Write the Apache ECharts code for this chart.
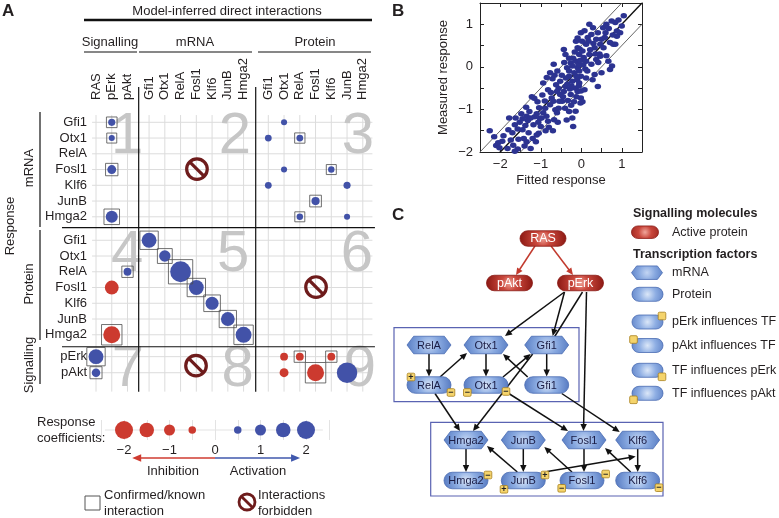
<!DOCTYPE html>
<html><head><meta charset="utf-8">
<script src="https://cdn.jsdelivr.net/npm/echarts@6/dist/echarts.min.js"></script>
<style>html,body{margin:0;padding:0;background:#fff}#c{width:779px;height:518px}</style>
</head><body><div id="c"></div>
<script>
const FONT = '"Liberation Sans", Arial, Helvetica, sans-serif';
const TXT = '#231f20';
const BLUE = '#4252a8';
const RED = '#cc3a2f';
const MAROON = '#6e1c1c';

// ---------- Panel A data ----------
const colNames = ['RAS','pErk','pAkt','Gfi1','Otx1','RelA','Fosl1','Klf6','JunB','Hmga2','Gfi1','Otx1','RelA','Fosl1','Klf6','JunB','Hmga2'];
const rowNames = ['Gfi1','Otx1','RelA','Fosl1','Klf6','JunB','Hmga2','Gfi1','Otx1','RelA','Fosl1','Klf6','JunB','Hmga2','pErk','pAkt'];
// response (row) / perturbation (column) / coefficient / confirmed-known
const cellRow   = [0,1,3,6, 0,1,1,3,3,4,4,5,6,6, 9,10,13, 7,8,9,10,11,12,13, 14,15,14,14,14,15,15,15];
const cellCol   = [1,1,1,1, 11,10,12,11,14,10,15,13,12,15, 2,1,1, 3,4,5,6,7,8,9, 0,0,11,12,14,11,13,15];
const cellCoef  = [0.45,0.3,0.7,1.15, 0.3,0.4,0.4,0.3,0.35,0.4,0.45,0.6,0.35,0.3, 0.55,-1.4,-1.85, 1.55,1.05,2.4,1.55,1.3,1.4,1.7, 1.55,0.65,-0.55,-0.55,-0.55,-0.7,-1.85,2.35];
const cellKnown = [1,1,1,1, 0,0,1,0,1,0,0,1,1,0, 1,0,1, 1,1,1,1,1,1,1, 1,1,0,1,1,0,1,0];
const legendCoefs = [-2,-1.5,-1,-0.5,0.5,1,1.5,2];
const blockNumbers = ['1','2','3','4','5','6','7','8','9'];

// layout of the matrix (axis units)
const colPos = [0,1,2, 3.37,4.37,5.37,6.37,7.37,8.37,9.37, 10.94,11.94,12.94,13.94,14.94,15.94,16.94];
const rowPos = [0,1,2,3,4,5,6, 7.49,8.49,9.49,10.49,11.49,12.49,13.49, 14.88,15.9];
const numberPos = [[1.97,0.95],[8.82,0.95],[16.63,0.95],[1.97,8.4],[8.7,8.4],[16.57,8.4],[2.03,15.75],[9.0,15.75],[16.76,15.75]];
const forbiddenPos = [[6.41,2.97],[13.97,10.46],[6.35,15.45]];
const dividerSegs = [[2.71,-2.24,2.71,17.1],[10.14,-2.24,10.14,17.1],[-2.16,6.69,17.71,6.69],[-2.16,14.25,17.71,14.25]];

// ---------- Panel B data (fitted, measured) ----------
const scatterPoints = [
[-2.26,-1.5],[-2.15,-1.64],[-2.1,-1.85],[-2.02,-1.9],[-1.95,-1.75],[-1.82,-1.92],[-1.8,-1.48],[-1.78,-1.2],[-1.74,-1.72],[-1.68,-1.84],[-1.62,-1.2],[-1.64,-1.36],[-1.57,-1.46],[-1.57,-1.93],[-1.64,-1.98],[-1.55,-1.7],[-1.92,-1.62],[-2.05,-1.78],[-1.7,-1.55],[-1.52,-1.3],
[-1.45,-1.48],[-1.38,-1.38],[-1.32,-1.26],[-1.35,-1.16],[-1.28,-1.05],[-1.42,-1.68],[-1.35,-1.76],[-1.2,-1.68],[-1.12,-1.76],[-1.25,-1.92],[-1.4,-1.86],[-1.3,-1.55],[-1.22,-0.7],[-1.16,-0.74],[-1.08,-0.82],[-1.04,-0.96],[-1.15,-1.17],[-1.02,-1.21],[-1.0,-1.4],[-1.05,-1.56],[-1.1,-1.6],[-1.18,-1.36],[-1.1,-1.1],[-1.25,-1.2],[-1.48,-1.1],[-1.45,-1.22],[-1.06,-1.3],[-1.36,-0.95],
[-0.94,-0.38],[-0.82,-0.54],[-0.73,-0.73],[-0.69,-0.81],[-0.77,-0.89],[-0.64,-1.01],[-0.89,-0.97],[-0.94,-1.08],[-0.86,-1.16],[-0.82,-1.28],[-0.67,-1.24],[-0.6,-1.08],[-0.56,-0.97],[-0.54,-0.81],[-0.52,-0.65],[-0.56,-0.51],[-0.6,-0.58],[-0.71,-0.28],[-0.77,-0.14],[-0.68,0.06],[-0.59,-0.1],[-0.52,-0.34],[-0.96,-0.66],[-0.9,-0.8],[-0.8,-1.42],[-0.7,-1.5],[-0.88,-1.5],[-0.98,-1.2],[-0.75,-0.6],[-0.62,-0.42],[-0.85,-0.25],[-0.66,-0.2],[-0.58,-1.3],
[-0.43,0.41],[-0.39,0.29],[-0.35,-0.02],[-0.3,-0.1],[-0.26,0.09],[-0.22,0.02],[-0.3,-0.22],[-0.22,-0.34],[-0.14,-0.5],[-0.09,-0.58],[-0.39,-0.46],[-0.43,-0.58],[-0.47,-0.81],[-0.4,-0.97],[-0.3,-1.05],[-0.22,-1.2],[-0.14,-1.04],[-0.18,-0.82],[-0.26,-0.65],[-0.38,-0.26],[-0.13,0.13],[-0.09,-0.02],[-0.05,-0.1],[-0.01,-0.22],[-0.05,-0.38],[-0.01,-0.57],[-0.01,-0.73],[-0.13,0.6],[-0.09,0.45],[-0.05,0.29],[-0.01,0.8],[-0.09,0.68],[-0.2,0.2],[-0.17,-0.14],[-0.45,-0.7],[-0.33,-0.79],[-0.28,-0.52],[-0.48,-0.2],[-0.42,0.1],[-0.25,-0.9],[-0.1,-0.3],[-0.07,0.05],[-0.03,0.15],[-0.36,-1.25],[-0.2,-1.4],[-0.12,-0.7],[-0.02,-0.85],[-0.3,0.2],[-0.16,0.35],[-0.06,-0.45],[-0.24,-0.45],[-0.34,-0.4],[-0.12,-0.22],[-0.04,0.42],
[0.03,0.37],[0.12,0.53],[0.16,0.69],[0.2,1.0],[0.29,0.92],[0.25,0.76],[0.37,0.65],[0.41,0.8],[0.47,0.53],[0.33,0.45],[0.2,0.29],[0.12,0.13],[0.25,0.06],[0.37,0.17],[0.33,-0.18],[0.41,-0.46],[0.5,-0.14],[0.12,-0.26],[0.08,-0.54],[0.03,-0.82],[0.18,0.6],[0.05,0.05],[0.1,-0.05],[0.22,0.4],[0.3,0.55],[0.06,0.22],[0.15,-0.1],[0.45,0.3],[0.28,-0.3],[0.02,0.6],[0.08,0.85],[0.35,0.3],[0.42,0.1],
[0.54,0.92],[0.62,1.0],[0.75,1.08],[0.84,1.04],[0.88,0.84],[0.58,0.69],[0.71,0.57],[0.79,0.53],[0.67,0.13],[0.71,-0.06],[0.76,0.02],[1.0,0.96],[1.05,1.2],[0.96,0.8],[0.88,0.72],[0.84,0.53],[0.55,0.45],[0.47,0.25],[0.62,0.26],[0.6,0.8],[0.68,0.9],[0.92,1.1],[0.5,0.65],[0.78,0.75]
];
const lineMid = [[-2.5,-2.5],[1.5,1.5]];
const lineUpper = [[-2.5,-2],[1.0,1.5]];
const lineLower = [[-1.5,-2],[1.5,1.0]];

// ---------- Panel C (diagram) ----------
const cNodes = [
 {id:'RAS', label:'RAS', kind:'sig', x:543, y:238.5},
 {id:'pAkt', label:'pAkt', kind:'sig', x:509.5, y:283},
 {id:'pErk', label:'pErk', kind:'sig', x:580.5, y:283},
 {id:'hRelA', label:'RelA', kind:'mrna', x:429, y:345},
 {id:'hOtx1', label:'Otx1', kind:'mrna', x:486, y:345},
 {id:'hGfi1', label:'Gfi1', kind:'mrna', x:546.7, y:345},
 {id:'pRelA', label:'RelA', kind:'prot', x:429, y:385},
 {id:'pOtx1', label:'Otx1', kind:'prot', x:486, y:385},
 {id:'pGfi1', label:'Gfi1', kind:'prot', x:546.7, y:385},
 {id:'hHmga2', label:'Hmga2', kind:'mrna', x:466, y:440},
 {id:'hJunB', label:'JunB', kind:'mrna', x:523.3, y:440},
 {id:'hFosl1', label:'Fosl1', kind:'mrna', x:584, y:440},
 {id:'hKlf6', label:'Klf6', kind:'mrna', x:637.7, y:440},
 {id:'pHmga2', label:'Hmga2', kind:'prot', x:466, y:480.5},
 {id:'pJunB', label:'JunB', kind:'prot', x:523.3, y:480.5},
 {id:'pFosl1', label:'Fosl1', kind:'prot', x:582, y:480.5},
 {id:'pKlf6', label:'Klf6', kind:'prot', x:637.7, y:480.5}
];
const cEdges = [
 ['RAS',[-8,7.5],'pAkt',[6.5,-8],'red',1],
 ['RAS',[8,7.5],'pErk',[-7.5,-8],'red',1],
 ['pErk',[-16,9],'hOtx1',[19,-9],'k',1],
 ['pErk',[-16,9],'hGfi1',[6,-9],'k',1],
 ['pErk',[2,9],'hGfi1',[8,-8.5],'k',0],
 ['pErk',[6,9],'hFosl1',[-0.5,-9],'k',1],
 ['hRelA',[0,9],'pRelA',[0,-8.5],'k',1],
 ['hOtx1',[0,9],'pOtx1',[0,-8.5],'k',1],
 ['hGfi1',[0,9],'pGfi1',[0,-8.5],'k',1],
 ['pRelA',[11,-8],'hOtx1',[-19,8],'k',1],
 ['pGfi1',[-19,-8],'hOtx1',[17,9],'k',1],
 ['pOtx1',[17,-8],'hGfi1',[-16,9],'k',1],
 ['hGfi1',[-14,9],'hHmga2',[7,-9],'k',1],
 ['pRelA',[6,8.5],'hHmga2',[-6,-9],'k',1],
 ['pOtx1',[22,8],'hFosl1',[-16,-9],'k',1],
 ['pGfi1',[15,8.5],'hKlf6',[-18,-8],'k',1],
 ['hHmga2',[0,9],'pHmga2',[0,-8.5],'k',1],
 ['hJunB',[0,9],'pJunB',[0,-8.5],'k',1],
 ['hFosl1',[0,9],'pFosl1',[2,-8.5],'k',1],
 ['hKlf6',[0,9],'pKlf6',[0,-8.5],'k',1],
 ['pJunB',[-6,-8.5],'hHmga2',[21,6],'k',1],
 ['pFosl1',[-10,-8.5],'hJunB',[21,7],'k',1],
 ['pKlf6',[-7,-8.5],'hFosl1',[21,8],'k',1],
 ['pJunB',[24,-9],'hKlf6',[-2,16.5],'k',1]
];
const cBadges = [
 ['pRelA',-18,-8,'+'],['pRelA',22,7.5,'−'],
 ['pOtx1',-18.7,7.5,'−'],['pOtx1',20,6.5,'−'],
 ['pHmga2',22,-5.5,'−'],
 ['pJunB',21.7,-5.5,'+'],['pJunB',-19.3,8.8,'+'],
 ['pFosl1',23.7,-6.5,'−'],['pFosl1',-20.3,7.8,'−'],
 ['pKlf6',21.3,7.2,'−']
];

// ---------- helpers for graphic ----------
const sigFill = {type:'radial',x:0.5,y:0.5,r:1.4,colorStops:[{offset:0,color:'#f0a69b'},{offset:0.35,color:'#c9473c'},{offset:1,color:'#8e1a14'}]};
const protFill = {type:'radial',x:0.5,y:0.5,r:1.4,colorStops:[{offset:0,color:'#dbe7f8'},{offset:0.4,color:'#8eaee3'},{offset:1,color:'#4f73bd'}]};
const mrnaFill = {type:'radial',x:0.5,y:0.5,r:1.3,colorStops:[{offset:0,color:'#c3d5f3'},{offset:0.45,color:'#86a7df'},{offset:1,color:'#5479c1'}]};

function hexPoints(cx, cy, w, h){
  const a = h*0.38;
  return [[cx-w/2,cy],[cx-w/2+a,cy-h/2],[cx+w/2-a,cy-h/2],[cx+w/2,cy],[cx+w/2-a,cy+h/2],[cx-w/2+a,cy+h/2]];
}
function nodeShape(kind, cx, cy, w, h){
  if (kind === 'mrna') return {type:'polygon', shape:{points:hexPoints(cx,cy,w,h)}, style:{fill:mrnaFill, stroke:'#4a6cb3', lineWidth:0.8}};
  return {type:'rect', shape:{x:cx-w/2, y:cy-h/2, width:w, height:h, r:h/2}, style:{fill: kind==='sig'?sigFill:protFill, stroke: kind==='sig'?'#8a1c16':'#4a6cb3', lineWidth:0.8}};
}
function badge(cx, cy, sign){
  const els = [{type:'rect', shape:{x:cx-3.8,y:cy-3.8,width:7.6,height:7.6,r:1.2}, style:{fill:'#f5d46c', stroke:'#a8801c', lineWidth:0.8}, z:30}];
  if (sign) els.push({type:'text', x:cx, y:cy+0.3, style:{text:sign, fontSize:9, fontWeight:'bold', fontFamily:FONT, fill:'#222', align:'center', verticalAlign:'middle'}, z:31});
  return els;
}
function arrow(x1,y1,x2,y2,color,head){
  const dx=x2-x1, dy=y2-y1, L=Math.hypot(dx,dy), ux=dx/L, uy=dy/L;
  const hl=7, hw=3.2;
  const ex = head ? x2-ux*(hl-1) : x2, ey = head ? y2-uy*(hl-1) : y2;
  const els=[{type:'line', shape:{x1,y1,x2:ex,y2:ey}, style:{stroke:color, lineWidth:1.5}, z:15}];
  if (head){
    const bx=x2-ux*hl, by=y2-uy*hl;
    els.push({type:'polygon', shape:{points:[[x2,y2],[bx-uy*hw,by+ux*hw],[bx+uy*hw,by-ux*hw]]}, style:{fill:color}, z:15});
  }
  return els;
}
function txt(x,y,text,opt){
  opt = opt||{};
  return {type:'text', x, y, rotation: opt.rot||0, z:40, style:{text, fontSize:opt.size||13, fontWeight:opt.bold?'bold':'normal', fontFamily:FONT, fill:opt.color||TXT, align:opt.align||'left', verticalAlign:'middle'}};
}
function hline(x1,y1,x2,y2,w,c){ return {type:'line', shape:{x1,y1,x2,y2}, style:{stroke:c||'#111', lineWidth:w||1}, z:10}; }

const nodeById = {};
cNodes.forEach(n=>nodeById[n.id]=n);
const graphics = [];
// panel letters & headers
graphics.push(txt(2,11,'A',{size:17,bold:true}), txt(392,11,'B',{size:17,bold:true}), txt(392,215,'C',{size:17,bold:true}));
graphics.push(txt(227,11,'Model-inferred direct interactions',{align:'center'}));
graphics.push(hline(84,20,372,20,2.6));
graphics.push(txt(110,42,'Signalling',{align:'center'}), txt(195,42,'mRNA',{align:'center'}), txt(315,42,'Protein',{align:'center'}));
graphics.push(hline(84,52,137,52,1.2), hline(139,52,252,52,1.2), hline(258,52,371,52,1.2));
graphics.push(txt(10,226,'Response',{rot:Math.PI/2,align:'center'}));
graphics.push(txt(29,168,'mRNA',{rot:Math.PI/2,align:'center'}), hline(40,112,40,227,1.2));
graphics.push(txt(29,284,'Protein',{rot:Math.PI/2,align:'center'}), hline(40,230,40,340,1.2));
graphics.push(txt(29,365,'Signalling',{rot:Math.PI/2,align:'center'}), hline(40,347,40,384,1.2));
// panel A legend texts
graphics.push(txt(37,422,'Response'), txt(37,438,'coefficients:'));
graphics.push(txt(173,471,'Inhibition',{align:'center'}), txt(258,471,'Activation',{align:'center'}));
graphics.push({type:'rect', shape:{x:85,y:496,width:15,height:14}, style:{fill:'none', stroke:'#555', lineWidth:1}, z:10});
graphics.push(txt(104,495,'Confirmed/known'), txt(104,511,'interaction'));
graphics.push({type:'circle', shape:{cx:247,cy:502,r:8}, style:{fill:'none', stroke:MAROON, lineWidth:2.8}, z:10});
graphics.push(hline(247-5.6,502-5.6,247+5.6,502+5.6,2.8,MAROON));
graphics.push(txt(258,495,'Interactions'), txt(258,511,'forbidden'));
// panel C boxes
graphics.push({type:'rect', shape:{x:394,y:327.7,width:185,height:74}, style:{fill:'none', stroke:'#5a63b2', lineWidth:1.2}, z:5});
graphics.push({type:'rect', shape:{x:430.7,y:422.3,width:232.3,height:73.7}, style:{fill:'none', stroke:'#5a63b2', lineWidth:1.2}, z:5});
// edges
cEdges.forEach(e=>{
  const a=nodeById[e[0]], b=nodeById[e[2]];
  const col = e[4]==='red' ? '#c23a2e' : '#111';
  arrow(a.x+e[1][0], a.y+e[1][1], b.x+e[3][0], b.y+e[3][1], col, e[5]).forEach(g=>graphics.push(g));
});
// nodes
cNodes.forEach(n=>{
  const w = n.kind==='sig' ? 46 : 44;
  const h = n.kind==='sig' ? 15.5 : (n.kind==='mrna' ? 17.5 : 16.5);
  const s = nodeShape(n.kind, n.x, n.y, w, h); s.z = 20; graphics.push(s);
  graphics.push(txt(n.x, n.y+0.5, n.label, {align:'center', size: n.kind==='sig'?12.5:11, color: n.kind==='sig'?'#ffffff':'#1b1d45'}));
});
cBadges.forEach(b=>{ const n=nodeById[b[0]]; badge(n.x+b[1], n.y+b[2], b[3]).forEach(g=>graphics.push(g)); });
// panel C legend
graphics.push(txt(633,214,'Signalling molecules',{size:12.5,bold:true}));
(function(){ const s=nodeShape('sig',645,232.2,27,12.5); s.z=20; graphics.push(s); })();
graphics.push(txt(672,232.5,'Active protein',{size:12.5}));
graphics.push(txt(633,254.5,'Transcription factors',{size:12.5,bold:true}));
(function(){ const s=nodeShape('mrna',647,272.7,31,13.5); s.z=20; graphics.push(s); })();
graphics.push(txt(672,272.7,'mRNA',{size:12.5}));
const legPills = [[294.3,'Protein',null],[322,'pErk influences TF','TR'],[345.5,'pAkt influences TF','TL'],[370.3,'TF influences pErk','BR'],[393.3,'TF influences pAkt','BL']];
legPills.forEach(p=>{
  const s=nodeShape('prot',647.5,p[0],31,14); s.z=20; graphics.push(s);
  graphics.push(txt(672,p[0],p[1],{size:12.5}));
  if (p[2]){
    const bx = p[2][1]==='R' ? 662 : 633.5;
    const by = p[2][0]==='T' ? p[0]-6 : p[0]+6.5;
    badge(bx,by,null).forEach(g=>graphics.push(g));
  }
});

// ---------- series ----------
const matrixData = cellRow.map((r,i)=>[colPos[cellCol[i]], rowPos[r], cellCoef[i]]);
const knownData = matrixData.filter((d,i)=>cellKnown[i]===1);
const sizeOf = v => 4 + 7*Math.abs(v);
const minus = v => (v<0 ? '−'+Math.abs(v) : String(v));
const boxAxis = {onZero:false, lineStyle:{color:'#222', width:1}};

const option = {
  animation:false,
  backgroundColor:'#ffffff',
  grid:[
    {left:80.25, top:106.55, width:299.25, height:299.25},
    {left:101.25, top:420, width:227.5, height:20},
    {left:480, top:3, width:162, height:149}
  ],
  xAxis:[
    {gridIndex:0, type:'value', min:-1, max:18, show:false},
    {gridIndex:1, type:'value', min:-2.5, max:2.5, interval:0.5, axisLine:{show:false}, axisTick:{show:false},
      splitLine:{show:true, lineStyle:{color:'#e3e3e3', width:1}},
      axisLabel:{margin:4, fontSize:13, fontFamily:FONT, color:TXT, formatter:v=>Number.isInteger(v)?minus(v):''}},
    {gridIndex:2, type:'value', min:-2.5, max:1.5, interval:0.5, position:'bottom',
      axisLine:boxAxis, axisTick:{inside:true, length:4, lineStyle:{color:'#222'}},
      splitLine:{show:false},
      axisLabel:{margin:6, fontSize:13, fontFamily:FONT, color:TXT, formatter:v=>Number.isInteger(v)?minus(v):''},
      name:'Fitted response', nameLocation:'middle', nameGap:22, nameTextStyle:{fontSize:13, fontFamily:FONT, color:TXT}},
    {gridIndex:2, type:'value', min:-2.5, max:1.5, interval:0.5, position:'top',
      axisLine:boxAxis, axisTick:{inside:true, length:4, lineStyle:{color:'#222'}},
      splitLine:{show:false}, axisLabel:{show:false}}
  ],
  yAxis:[
    {gridIndex:0, type:'value', min:-1, max:18, inverse:true, show:false},
    {gridIndex:1, type:'value', min:-1, max:1, show:false},
    {gridIndex:2, type:'value', min:-2, max:1.5, interval:0.5, position:'left',
      axisLine:boxAxis, axisTick:{inside:true, length:4, lineStyle:{color:'#222'}},
      splitLine:{show:false},
      axisLabel:{margin:7, fontSize:13, fontFamily:FONT, color:TXT, formatter:v=>Number.isInteger(v)?minus(v):''},
      name:'Measured response', nameLocation:'middle', nameGap:30, nameRotate:90, nameTextStyle:{fontSize:13, fontFamily:FONT, color:TXT}},
    {gridIndex:2, type:'value', min:-2, max:1.5, interval:0.5, position:'right',
      axisLine:boxAxis, axisTick:{inside:true, length:4, lineStyle:{color:'#222'}},
      splitLine:{show:false}, axisLabel:{show:false}}
  ],
  graphic: graphics,
  series:[
    // matrix grid lines
    {type:'custom', xAxisIndex:0, yAxisIndex:0, silent:true, z:1, clip:false,
      data: colPos.map(p=>[p,0]),
      renderItem:(params, api)=>{
        const x = api.coord([api.value(0),0])[0];
        const y1 = api.coord([0,-0.46])[1], y2 = api.coord([0,17.1])[1];
        return {type:'line', shape:{x1:x,y1,x2:x,y2}, style:{stroke:'#dcdcdc', lineWidth:1}};
      }},
    {type:'custom', xAxisIndex:0, yAxisIndex:0, silent:true, z:1, clip:false,
      data: rowPos.map(p=>[0,p]),
      renderItem:(params, api)=>{
        const y = api.coord([0,api.value(1)])[1];
        const x1 = api.coord([-0.25,0])[0], x2 = api.coord([17.55,0])[0];
        return {type:'line', shape:{x1,y1:y,x2,y2:y}, style:{stroke:'#dcdcdc', lineWidth:1}};
      }},
    // block numbers
    {type:'custom', xAxisIndex:0, yAxisIndex:0, silent:true, z:2, clip:false,
      data: numberPos,
      renderItem:(params, api)=>{
        const p = api.coord([api.value(0), api.value(1)]);
        return {type:'text', x:p[0], y:p[1], style:{text:blockNumbers[params.dataIndex], fontSize:58, fontFamily:FONT, fill:'#c6c6c6', align:'center', verticalAlign:'middle'}};
      }},
    // dividers
    {type:'custom', xAxisIndex:0, yAxisIndex:0, silent:true, z:3, clip:false,
      data: dividerSegs,
      renderItem:(params, api)=>{
        const a = api.coord([api.value(0), api.value(1)]), b = api.coord([api.value(2), api.value(3)]);
        return {type:'line', shape:{x1:a[0],y1:a[1],x2:b[0],y2:b[1]}, style:{stroke:'#111', lineWidth:1.2}};
      }},
    // column labels
    {type:'custom', xAxisIndex:0, yAxisIndex:0, silent:true, z:5, clip:false,
      data: colPos.map(p=>[p,0]),
      renderItem:(params, api)=>{
        const x = api.coord([api.value(0),0])[0];
        return {type:'text', x:x, y:100, rotation:Math.PI/2, style:{text:colNames[params.dataIndex], fontSize:13, fontFamily:FONT, fill:TXT, align:'left', verticalAlign:'middle'}};
      }},
    // row labels
    {type:'custom', xAxisIndex:0, yAxisIndex:0, silent:true, z:5, clip:false,
      data: rowPos.map(p=>[0,p]),
      renderItem:(params, api)=>{
        const y = api.coord([0,api.value(1)])[1];
        return {type:'text', x:87, y:y, style:{text:rowNames[params.dataIndex], fontSize:13, fontFamily:FONT, fill:TXT, align:'right', verticalAlign:'middle'}};
      }},
    // forbidden marks
    {type:'custom', xAxisIndex:0, yAxisIndex:0, silent:true, z:6, clip:false,
      data: forbiddenPos,
      renderItem:(params, api)=>{
        const p = api.coord([api.value(0), api.value(1)]);
        return {type:'group', children:[
          {type:'circle', shape:{cx:p[0],cy:p[1],r:10.3}, style:{fill:'none', stroke:MAROON, lineWidth:3.2}},
          {type:'line', shape:{x1:p[0]-7.3,y1:p[1]-7.3,x2:p[0]+7.3,y2:p[1]+7.3}, style:{stroke:MAROON, lineWidth:3.2}}
        ]};
      }},
    // response coefficient bubbles
    {type:'scatter', xAxisIndex:0, yAxisIndex:0, z:8, silent:true,
      data: matrixData, symbolSize: v=>sizeOf(v[2]),
      itemStyle:{color: p=> p.value[2]<0 ? RED : BLUE, opacity:1}},
    // known interaction boxes
    {type:'scatter', xAxisIndex:0, yAxisIndex:0, z:9, silent:true, symbol:'rect',
      data: knownData, symbolSize: v=>Math.max(10, sizeOf(v[2])+3.5),
      itemStyle:{color:'rgba(0,0,0,0)', borderColor:'#4d4d4d', borderWidth:1}},
    // legend scale line
    {type:'line', xAxisIndex:1, yAxisIndex:1, silent:true, z:2, symbol:'none', data:[[-2.42,0],[2.37,0]],
      lineStyle:{color:'#e3e3e3', width:1}},
    {type:'scatter', xAxisIndex:1, yAxisIndex:1, z:8, silent:true,
      data: legendCoefs.map(v=>[v,0]), symbolSize: v=>sizeOf(v[0]),
      itemStyle:{color: p=> p.value[0]<0 ? RED : BLUE, opacity:1}},
    // inhibition / activation arrows
    {type:'custom', xAxisIndex:1, yAxisIndex:1, silent:true, z:8, clip:false,
      data: [[0,-2.8,-1.82],[0,-2.8,1.87]],
      renderItem:(params, api)=>{
        const col = params.dataIndex===0 ? '#cf3b30' : '#4058ad';
        const a = api.coord([api.value(0), api.value(1)]), b = api.coord([api.value(2), api.value(1)]);
        const dir = Math.sign(b[0]-a[0]);
        return {type:'group', children:[
          {type:'line', shape:{x1:a[0],y1:a[1],x2:b[0]-dir*6,y2:b[1]}, style:{stroke:col, lineWidth:1.6}},
          {type:'polygon', shape:{points:[[b[0],b[1]],[b[0]-dir*9,b[1]-3.8],[b[0]-dir*9,b[1]+3.8]]}, style:{fill:col}}
        ]};
      }},
    // panel B reference lines
    {type:'line', xAxisIndex:2, yAxisIndex:2, silent:true, symbol:'none', clip:true, z:3, data: lineUpper, lineStyle:{color:'#666', width:1}},
    {type:'line', xAxisIndex:2, yAxisIndex:2, silent:true, symbol:'none', clip:true, z:3, data: lineLower, lineStyle:{color:'#666', width:1}},
    {type:'line', xAxisIndex:2, yAxisIndex:2, silent:true, symbol:'none', clip:true, z:3, data: lineMid, lineStyle:{color:'#111', width:1.4}},
    {type:'scatter', xAxisIndex:2, yAxisIndex:2, silent:true, z:4, data: scatterPoints, symbolSize:[6.5,5.5],
      itemStyle:{color:'#2c3391', opacity:1}}
  ]
};
const chart = echarts.init(document.getElementById('c'), null, {renderer:'canvas', width:779, height:518});
chart.setOption(option);
</script>
</body></html>
